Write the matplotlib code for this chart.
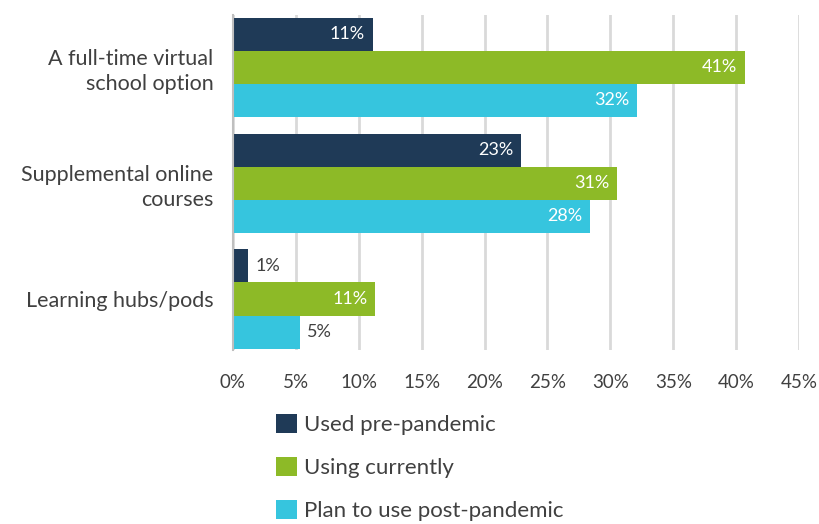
import numpy as np
import matplotlib
matplotlib.use("Agg")
import matplotlib.pyplot as plt
from matplotlib.patches import Patch

plt.rcParams['font.family'] = ['Lato', 'DejaVu Sans']

categories = ['A full-time virtual\nschool option', 'Supplemental online\ncourses', 'Learning hubs/pods']
series = ['Used pre-pandemic', 'Using currently', 'Plan to use post-pandemic']
pre_pandemic = [11.1, 22.9, 1.2]
currently = [40.7, 30.5, 11.3]
post_pandemic = [32.1, 28.4, 5.3]
labels_pre = ['11%', '23%', '1%']
labels_cur = ['41%', '31%', '11%']
labels_post = ['32%', '28%', '5%']
colors = ['#1f3a57', '#8dba27', '#36c5de']
ticks = [0, 5, 10, 15, 20, 25, 30, 35, 40, 45]

fig = plt.figure(figsize=(8.2, 5.24), dpi=100)
ax = fig.add_axes([233 / 820, 1 - 350 / 524, (799 - 233) / 820, (350 - 15) / 524])

y = np.arange(len(categories))
h = 0.285
text_col = '#404040'
for i, (vals, labs) in enumerate(zip([pre_pandemic, currently, post_pandemic],
                                     [labels_pre, labels_cur, labels_post])):
    pos = y + (i - 1) * h
    ax.barh(pos, vals, height=h, color=colors[i], zorder=3)
    for p, v, lab in zip(pos, vals, labs):
        if v > 8:
            ax.text(v - 0.6, p, lab, ha='right', va='center', color='white',
                    fontsize=13, zorder=4)
        else:
            ax.text(v + 0.6, p, lab, ha='left', va='center', color=text_col,
                    fontsize=13, zorder=4)

ax.set_xlim(0, 45)
ax.set_ylim(2.44, -0.45)
ax.set_xticks(ticks)
ax.set_xticklabels([f'{t}%' for t in ticks], fontsize=13.5, color=text_col)
ax.set_yticks(y)
ax.set_yticklabels(categories, fontsize=15.5, color=text_col, multialignment='right',
                   linespacing=1.3)
ax.tick_params(axis='both', length=0)
ax.tick_params(axis='x', pad=17)
ax.tick_params(axis='y', pad=14)
ax.grid(axis='x', color='#d9d9d9', linewidth=2, zorder=0)
for s in ['top', 'right', 'bottom']:
    ax.spines[s].set_visible(False)
ax.spines['left'].set_color('#bfbfbf')
ax.spines['left'].set_linewidth(1.5)
ax.spines['left'].set_zorder(5)

handles = [Patch(facecolor=c, label=s) for c, s in zip(colors, series)]
leg = fig.legend(handles=handles, loc='upper left', bbox_to_anchor=(256 / 820, 1 - 394 / 524),
                 frameon=False, fontsize=16, handlelength=0.95, handleheight=0.95,
                 handletextpad=0.3, labelspacing=0.98)
for t in leg.get_texts():
    t.set_color(text_col)

fig.savefig('out.png', dpi=100)
